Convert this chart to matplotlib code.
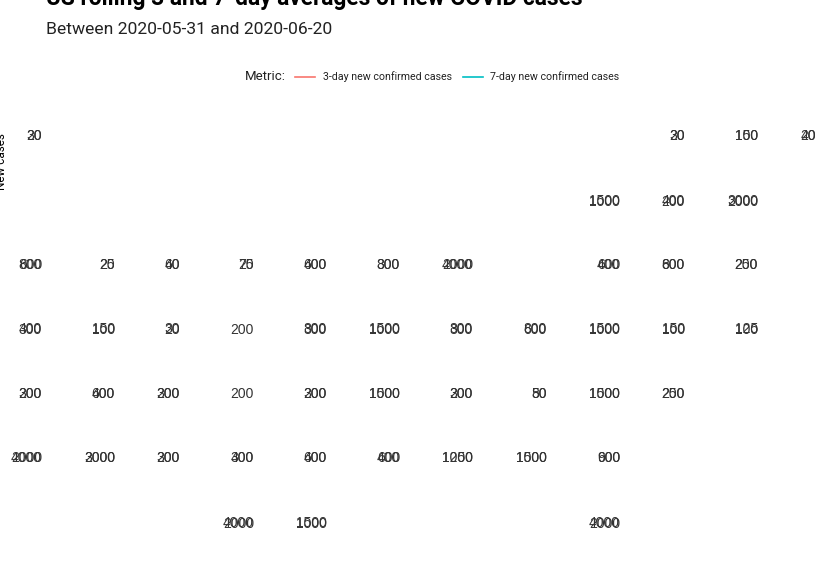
import matplotlib.pyplot as plt

title = "US rolling 3 and 7-day averages of new COVID cases"
subtitle = "Between 2020-05-31 and 2020-06-20"
metrics = ["3-day new confirmed cases", "7-day new confirmed cases"]
metric_colors = ["#F8766D", "#00BFC4"]

# right edge of each facet column's y labels (px) and each row's centre (px)
col_edges = [42, 115, 180, 254, 327, 400, 473, 547, 620, 685, 758, 816]
row_centres = [135, 200, 264, 328, 393, 457, 522]

# (row, col, y breaks) for every facet - the panels collapsed, so only the labels remain
panel_rows = [0, 0, 0, 0,
              1, 1, 1,
              2, 2, 2, 2, 2, 2, 2, 2, 2, 2,
              3, 3, 3, 3, 3, 3, 3, 3, 3, 3, 3,
              4, 4, 4, 4, 4, 4, 4, 4, 4, 4,
              5, 5, 5, 5, 5, 5, 5, 5, 5,
              6, 6, 6]
panel_cols = [0, 9, 10, 11,
              8, 9, 10,
              0, 1, 2, 3, 4, 5, 6, 8, 9, 10,
              0, 1, 2, 3, 4, 5, 6, 7, 8, 9, 10,
              0, 1, 2, 3, 4, 5, 6, 7, 8, 9,
              0, 1, 2, 3, 4, 5, 6, 7, 8,
              3, 4, 8]
panel_breaks = [[20, 30], [20, 30], [100, 150], [20, 40],
                [1000, 1500], [200, 400], [2000, 3000],
                [600, 800], [20, 25], [40, 60], [20, 75], [400, 600], [300, 800],
                [2000, 4000], [400, 600], [600, 800], [200, 250],
                [300, 400], [100, 150], [20, 30], [200], [300, 800], [1000, 1500],
                [300, 800], [600, 800], [1000, 1500], [100, 150], [100, 125],
                [200, 300], [400, 600], [200, 300], [200], [200, 300], [1000, 1500],
                [200, 300], [50, 80], [1000, 1500], [200, 250],
                [2000, 4000], [2000, 3000], [200, 300], [300, 400], [400, 600],
                [400, 600], [1000, 1250], [1000, 1500], [600, 900],
                [2000, 4000], [1000, 1500], [2000, 4000]]

W, H = 816, 576
fig = plt.figure(figsize=(W / 100, H / 100), dpi=100)

for r, c, br in zip(panel_rows, panel_cols, panel_breaks):
    ax = fig.add_axes([col_edges[c] / W, 1 - row_centres[r] / H, 0.05, 0.0002])
    ax.set_ylim(min(br), max(br) + 0.001)
    ax.set_yticks(br)
    ax.set_yticklabels([str(b) for b in br], fontsize=10, color="#333333",
                       family="Liberation Sans")
    ax.set_xticks([])
    ax.tick_params(axis="y", length=0, pad=0)
    for s in ax.spines.values():
        s.set_visible(False)
    ax.patch.set_visible(False)

fig.text(46 / W, 1 - 5 / H, title, fontsize=16.4, fontweight="bold",
         family="Roboto", va="baseline", ha="left")
fig.text(46 / W, 1 - 34 / H, subtitle, fontsize=12.6,
         family="Roboto", va="baseline", ha="left", color="#222222")
fig.text(1.5 / W, 1 - 162 / H, "New cases", rotation=90, fontsize=8.5,
         family="Roboto", ha="center", va="center")

# legend row
fig.text(245 / W, 1 - 77 / H, "Metric:", fontsize=9.5, family="Roboto",
         va="center", ha="left", color="#222222")
leg_x = [(295, 323), (463, 490)]
for (lx, tx), lab, col in zip(leg_x, metrics, metric_colors):
    fig.add_artist(plt.Line2D([lx / W, (lx + 20) / W], [1 - 77 / H, 1 - 77 / H],
                              color=col, lw=1.2))
    fig.text(tx / W, 1 - 77 / H, lab, fontsize=7.7, family="Roboto",
             va="center", ha="left", color="#222222")

fig.savefig("out.png", dpi=100)
